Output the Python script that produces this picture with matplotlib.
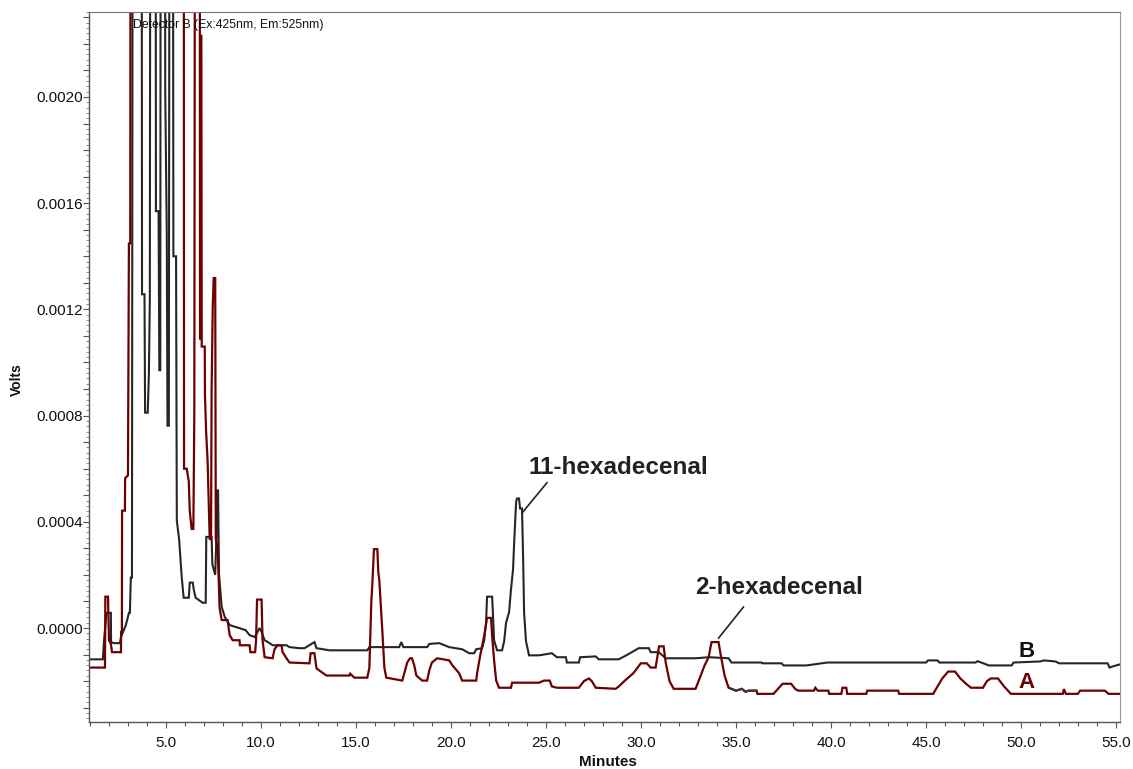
import numpy as np
import matplotlib
matplotlib.use("Agg")
import matplotlib.pyplot as plt
from matplotlib.ticker import MultipleLocator, FuncFormatter

plt.rcParams['font.family'] = ['Liberation Sans', 'DejaVu Sans']

# ---- data (time in minutes, signal in 1e-4 V; 40 = off-scale) ----
a_time = [1.0, 1.80, 1.82, 1.96, 2.01, 2.11, 2.17, 2.64, 2.65, 2.69, 2.70, 2.85, 2.86, 3.01, 3.06, 3.13, 3.16,
          5.94, 5.96, 6.10, 6.21, 6.26, 6.36, 6.45, 6.50, 6.55, 6.78, 6.80, 6.82, 6.84, 6.87, 6.89, 7.05, 7.06,
          7.12, 7.20, 7.31, 7.38, 7.41, 7.47, 7.52, 7.60, 7.63, 7.73, 7.83, 7.94, 8.25, 8.36, 8.52, 8.88, 8.90,
          9.41, 9.45, 9.70, 9.75, 9.80, 10.04, 10.09, 10.20, 10.62, 10.72, 10.88, 11.09, 11.14, 11.35, 11.51,
          12.56, 12.62, 12.82, 12.93, 13.08, 13.45, 14.66, 14.70, 14.80, 14.92, 15.60, 15.71, 15.81, 15.87,
          15.95, 16.13, 16.18, 16.23, 16.39, 16.50, 16.60, 17.44, 17.55, 17.70, 17.85, 17.95, 18.07, 18.18,
          18.49, 18.75, 18.86, 19.00, 19.28, 19.91, 20.07, 20.43, 20.59, 21.33, 21.38, 21.55, 21.75, 21.90,
          22.11, 22.17, 22.27, 22.38, 22.53, 23.16, 23.22, 24.63, 24.90, 25.20, 25.31, 25.58, 26.73, 27.00,
          27.26, 27.41, 27.62, 28.67, 28.83, 29.20, 29.60, 29.99, 30.30, 30.51, 30.77, 30.90, 30.95, 31.19,
          31.30, 31.50, 31.72, 32.87, 33.03, 33.35, 33.56, 33.71, 34.08, 34.19, 34.40, 34.61, 34.76, 35.00,
          35.30, 35.50, 35.66, 36.08, 36.12, 36.97, 37.20, 37.45, 37.90, 38.12, 38.28, 39.10, 39.17, 39.30,
          39.86, 39.90, 40.54, 40.60, 40.80, 40.85, 41.85, 41.90, 43.53, 43.58, 45.37, 45.60, 45.85, 46.16,
          46.52, 46.80, 47.10, 47.36, 47.99, 48.20, 48.40, 48.78, 49.10, 49.46, 52.19, 52.25, 52.35, 52.98,
          53.10, 54.40, 54.60, 55.20]
a_signal = [-1.49, -1.49, 1.18, 1.18, -0.46, -0.60, -0.91, -0.91, -0.15, -0.15, 4.42, 4.42, 5.64, 5.75, 14.48, 14.48, 40,
            40, 6.0, 6.0, 5.52, 4.42, 3.73, 3.73, 8.0, 40, 40, 10.9, 10.9, 22.3, 22.3, 10.6, 10.6, 8.8,
            7.43, 6.29, 3.35, 3.35, 8.95, 12.1, 13.18, 13.18, 3.35, 3.0, 0.76, 0.30, 0.30, -0.27, -0.46, -0.46, -0.65,
            -0.65, -0.91, -0.91, -0.46, 1.07, 1.07, -0.46, -1.10, -1.14, -0.80, -0.65, -0.65, -0.90, -1.14, -1.30,
            -1.33, -0.95, -0.95, -1.52, -1.60, -1.79, -1.79, -1.72, -1.79, -1.87, -1.87, -1.50, 0.95, 1.71,
            2.97, 2.97, 2.10, 1.83, -0.08, -1.50, -1.87, -1.98, -1.70, -1.30, -1.14, -1.14, -1.40, -1.79,
            -1.98, -1.98, -1.60, -1.30, -1.14, -1.22, -1.40, -1.70, -1.98, -1.98, -1.70, -1.00, -0.30, 0.38,
            0.38, -0.30, -1.20, -1.98, -2.25, -2.25, -2.06, -2.06, -1.98, -1.98, -2.20, -2.25, -2.25, -2.00,
            -1.90, -2.00, -2.25, -2.29, -2.20, -1.95, -1.70, -1.33, -1.33, -1.49, -1.49, -0.90, -0.69, -0.69,
            -1.30, -2.00, -2.29, -2.29, -2.00, -1.40, -1.10, -0.53, -0.53, -1.00, -1.80, -2.25, -2.29, -2.36,
            -2.29, -2.40, -2.36, -2.36, -2.48, -2.48, -2.30, -2.10, -2.10, -2.30, -2.36, -2.36, -2.25, -2.36,
            -2.36, -2.48, -2.48, -2.25, -2.25, -2.48, -2.48, -2.36, -2.36, -2.48, -2.48, -2.20, -1.90, -1.64,
            -1.64, -1.90, -2.10, -2.25, -2.25, -2.00, -1.90, -1.90, -2.20, -2.48, -2.48, -2.30, -2.48, -2.48,
            -2.36, -2.36, -2.48, -2.48]

b_time = [1.0, 1.69, 1.75, 1.88, 2.11, 2.12, 2.27, 2.59, 2.64, 2.90, 3.06, 3.11, 3.16, 3.22, 3.27, 3.72, 3.75,
          3.88, 3.91, 4.05, 4.11, 4.16, 4.20, 4.46, 4.48, 4.62, 4.66, 4.71, 4.74, 4.95, 4.97, 5.05, 5.09, 5.16,
          5.21, 5.36, 5.40, 5.54, 5.58, 5.70, 5.84, 5.94, 6.21, 6.26, 6.42, 6.47, 6.57, 6.94, 7.10, 7.13, 7.41,
          7.45, 7.60, 7.66, 7.70, 7.75, 7.80, 7.94, 8.10, 8.36, 8.67, 9.20, 9.41, 9.67, 9.83, 9.93, 10.04, 10.20,
          10.46, 10.62, 11.35, 11.51, 12.03, 12.30, 12.82, 12.93, 13.61, 15.60, 15.71, 17.28, 17.39, 17.50,
          18.75, 18.86, 19.38, 19.91, 20.59, 20.96, 21.22, 21.33, 21.64, 21.75, 21.85, 21.90, 22.17, 22.27,
          22.43, 22.69, 22.80, 22.90, 23.06, 23.16, 23.27, 23.32, 23.43, 23.48, 23.58, 23.64, 23.74, 23.80,
          23.85, 23.95, 24.11, 24.63, 25.31, 25.58, 26.05, 26.10, 26.73, 26.80, 27.62, 27.78, 28.83, 29.30,
          29.88, 30.41, 30.51, 30.93, 31.30, 32.87, 33.56, 34.61, 34.76, 36.34, 36.40, 37.40, 37.50, 38.70,
          39.80, 45.00, 45.10, 45.60, 45.70, 47.60, 47.70, 47.90, 48.30, 49.50, 49.60, 51.00, 51.20, 51.80,
          52.00, 54.55, 54.65, 54.80, 55.20]
b_signal = [-1.18, -1.18, -0.46, 0.57, 0.57, -0.53, -0.57, -0.57, -0.34, 0.11, 0.57, 0.57, 1.90, 1.90, 40, 40, 12.57,
            12.57, 8.11, 8.11, 9.56, 12.38, 40, 40, 15.7, 15.7, 9.71, 9.71, 40, 40, 20.2, 15.0, 7.62, 7.62,
            40, 40, 14.0, 14.0, 4.04, 3.35, 1.90, 1.14, 1.14, 1.71, 1.71, 1.45, 1.14, 0.95, 0.95, 3.43, 3.43,
            2.40, 2.00, 3.40, 5.18, 5.18, 2.02, 0.80, 0.42, 0.11, 0.04, -0.08, -0.27, -0.34, -0.15, 0.00, -0.15, -0.46,
            -0.57, -0.65, -0.65, -0.72, -0.76, -0.76, -0.53, -0.76, -0.84, -0.84, -0.72, -0.72, -0.53, -0.72,
            -0.72, -0.60, -0.57, -0.72, -0.80, -0.95, -0.95, -0.80, -0.76, -0.46, 0.20, 1.18, 1.18, -0.46,
            -0.84, -0.84, -0.50, 0.19, 0.60, 1.45, 2.21, 3.09, 4.76, 4.88, 4.88, 4.50, 4.50, 2.60,
            0.57, -0.50, -1.03, -1.03, -0.95, -1.10, -1.10, -1.30, -1.30, -1.10, -1.07, -1.18, -1.18, -1.00,
            -0.76, -0.76, -0.91, -0.91, -1.14, -1.14, -1.10, -1.14, -1.30, -1.30, -1.33, -1.33, -1.41, -1.41,
            -1.30, -1.30, -1.22, -1.22, -1.30, -1.30, -1.25, -1.30, -1.41, -1.41, -1.30, -1.26, -1.22, -1.26,
            -1.33, -1.33, -1.49, -1.45, -1.37]

x_ticks = [5, 10, 15, 20, 25, 30, 35, 40, 45, 50, 55]
y_ticks = [0.0, 0.0004, 0.0008, 0.0012, 0.0016, 0.0020]

color_a = '#6e0000'
color_b = '#262626'

# ---- figure ----
fig = plt.figure(figsize=(11.33, 7.69), dpi=100)
ax = fig.add_axes([89 / 1133, 1 - 722 / 769, (1120 - 89) / 1133, (722 - 12) / 769])

at = np.array(a_time)
av = np.array(a_signal) * 1e-4
bt = np.array(b_time)
bv = np.array(b_signal) * 1e-4

ax.plot(bt, bv, color=color_b, lw=1.5, solid_joinstyle='miter')
ax.plot(at, av, color=color_a, lw=1.6, solid_joinstyle='miter')
seg = (at >= 34.76) & (at <= 36.08)
ax.plot(at[seg], av[seg], color='#3a3a3a', lw=1.5)

ax.set_xlim(0.96, 55.2)
ax.set_ylim(-0.000354, 0.00232)

ax.xaxis.set_minor_locator(MultipleLocator(1))
ax.set_xticks(x_ticks)
ax.set_xticklabels([f"{v:.1f}" for v in x_ticks])

ax.yaxis.set_major_locator(MultipleLocator(0.0001))
ax.yaxis.set_minor_locator(MultipleLocator(0.00002))


def yfmt(v, pos):
    for t in y_ticks:
        if abs(v - t) < 1e-9:
            return f"{t:.4f}"
    return ""


ax.yaxis.set_major_formatter(FuncFormatter(yfmt))

ax.tick_params(axis='x', which='major', length=4, width=0.8, color='#555555',
               labelsize=11, pad=6, labelcolor='#111111')
ax.tick_params(axis='x', which='minor', length=3, width=0.8, color='#555555')
ax.tick_params(axis='y', which='major', length=4, width=0.8, color='#555555',
               labelsize=11, pad=0.5, labelcolor='#111111')
ax.tick_params(axis='y', which='minor', length=2, width=0.6, color='#777777')

for side in ['left', 'bottom']:
    ax.spines[side].set_color('#555555')
    ax.spines[side].set_linewidth(1.0)
ax.spines['top'].set_color('#777777')
ax.spines['right'].set_color('#9a9a9a')

fig.text(17 / 1133, 1 - 380 / 769, "Volts", rotation=90, ha='center', va='center',
         fontsize=10, fontweight='bold', color='#111111')
fig.text(608 / 1133, 1 - 762 / 769, "Minutes", ha='center', va='center',
         fontsize=11, fontweight='bold', color='#111111')

ax.text(3.27, 0.00227, "Detector B (Ex:425nm, Em:525nm)", fontsize=8.8, ha='left', va='center',
        color='#111111')

ax.text(24.1, 0.000603, "11-hexadecenal", fontsize=17.5, fontweight='bold', ha='left', va='center',
        color='#222222')
ax.plot([25.05, 23.74], [0.000547, 0.000433], color='#222222', lw=1.2)

ax.text(32.87, 0.000154, "2-hexadecenal", fontsize=17.5, fontweight='bold', ha='left', va='center',
        color='#222222')
ax.plot([35.39, 34.08], [0.000079, -0.000038], color='#222222', lw=1.2)

ax.text(50.3, -0.000087, "B", fontsize=16, fontweight='bold', ha='center', va='center', color='#111111')
ax.text(50.3, -0.000204, "A", fontsize=16, fontweight='bold', ha='center', va='center', color=color_a)

fig.savefig("out.png", dpi=100)
